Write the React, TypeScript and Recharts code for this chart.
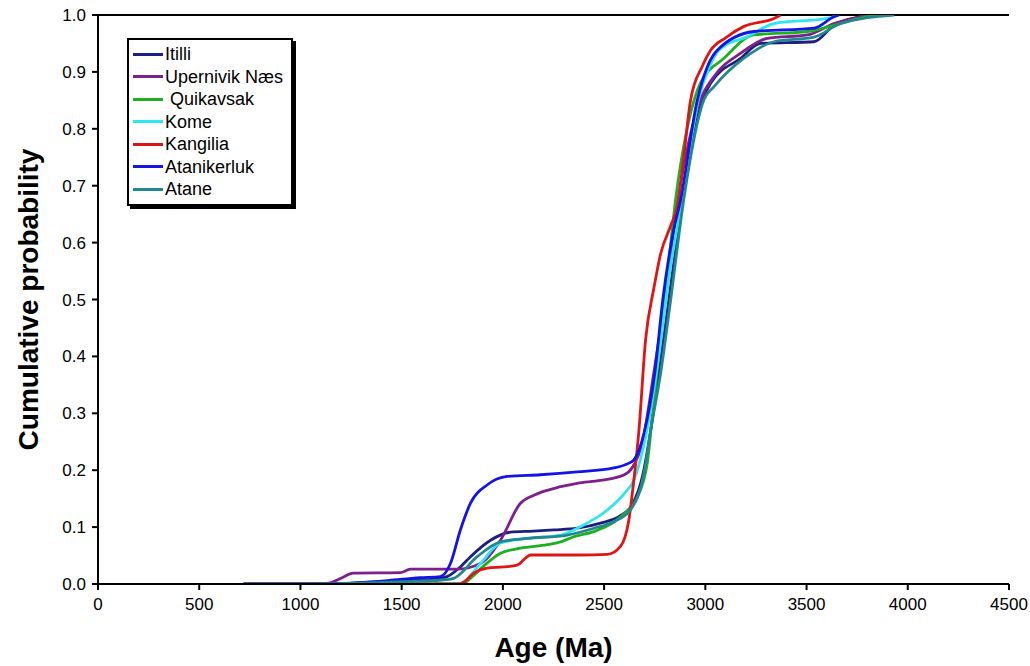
import React from 'react'
import { LineChart, Line, XAxis, YAxis, ReferenceLine } from 'recharts'

// [age (Ma), cumulative probability]
const itilli = [
  [720, 0], [1100, 0], [1400, 0.004], [1650, 0.008], [1724, 0.013], [1790, 0.03], [1840, 0.048],
  [1939, 0.077], [2037, 0.091], [2150, 0.093], [2252, 0.095], [2367, 0.098], [2482, 0.107],
  [2580, 0.12], [2640, 0.14], [2690, 0.19], [2730, 0.27], [2770, 0.37], [2820, 0.5], [2888, 0.675],
  [2985, 0.85], [3026, 0.88], [3175, 0.924], [3273, 0.95], [3537, 0.953], [3636, 0.982],
  [3734, 0.994], [3800, 1]
]
const upernivik = [
  [720, 0], [1100, 0], [1147, 0.002], [1200, 0.01], [1261, 0.019], [1493, 0.02], [1543, 0.026],
  [1774, 0.026], [1889, 0.036], [1988, 0.077], [2087, 0.142], [2153, 0.156], [2285, 0.171],
  [2367, 0.177], [2482, 0.182], [2600, 0.192], [2640, 0.205], [2690, 0.25], [2745, 0.37],
  [2800, 0.5], [2865, 0.675], [2975, 0.85], [3043, 0.892], [3175, 0.933], [3306, 0.959],
  [3504, 0.965], [3636, 0.985], [3770, 0.997], [3850, 1]
]
const quikavsak = [
  [720, 0], [1800, 0], [1840, 0.01], [1900, 0.03], [1988, 0.054], [2087, 0.063], [2219, 0.069],
  [2285, 0.074], [2350, 0.083], [2449, 0.092], [2581, 0.118], [2664, 0.153], [2713, 0.212],
  [2740, 0.3], [2775, 0.42], [2815, 0.55], [2853, 0.675], [2910, 0.8], [2975, 0.88], [3092, 0.924],
  [3240, 0.965], [3504, 0.971], [3636, 0.982], [3800, 0.997], [3880, 1]
]
const kome = [
  [720, 0], [1780, 0], [1806, 0.004], [1889, 0.036], [1988, 0.072], [2120, 0.08], [2285, 0.086],
  [2384, 0.101], [2516, 0.13], [2614, 0.165], [2639, 0.177], [2700, 0.25], [2770, 0.4],
  [2825, 0.55], [2885, 0.675], [2965, 0.85], [3020, 0.909], [3076, 0.941], [3208, 0.962],
  [3339, 0.985], [3603, 0.994], [3660, 1]
]
const kangilia = [
  [720, 0], [1780, 0], [1806, 0.003], [1856, 0.019], [1922, 0.028], [2004, 0.03], [2070, 0.033],
  [2110, 0.045], [2136, 0.051], [2384, 0.051], [2516, 0.052], [2581, 0.066], [2622, 0.112],
  [2647, 0.183], [2672, 0.27], [2705, 0.43], [2746, 0.52], [2779, 0.58], [2829, 0.63],
  [2862, 0.665], [2890, 0.74], [2927, 0.85], [2985, 0.91], [3026, 0.938], [3100, 0.96],
  [3191, 0.98], [3339, 0.994], [3372, 1]
]
const atanikerluk = [
  [720, 0], [1100, 0], [1400, 0.005], [1592, 0.011], [1691, 0.013], [1741, 0.036], [1790, 0.095],
  [1840, 0.142], [1922, 0.174], [2021, 0.189], [2186, 0.192], [2367, 0.197], [2548, 0.204],
  [2620, 0.212], [2647, 0.218], [2697, 0.265], [2750, 0.37], [2790, 0.5], [2840, 0.616],
  [2878, 0.675], [2960, 0.85], [3010, 0.909], [3059, 0.938], [3240, 0.971], [3537, 0.977],
  [3636, 0.997], [3660, 1]
]
const atane = [
  [720, 0], [1100, 0], [1500, 0.004], [1700, 0.007], [1757, 0.01], [1873, 0.048], [1988, 0.074],
  [2120, 0.08], [2318, 0.086], [2450, 0.098], [2550, 0.11], [2630, 0.13], [2700, 0.2],
  [2730, 0.27], [2779, 0.37], [2829, 0.5], [2893, 0.675], [2993, 0.851], [3043, 0.874],
  [3191, 0.924], [3339, 0.953], [3537, 0.961], [3669, 0.985], [3932, 1]
]

const seriesNames = ['Itilli', 'Upernivik Næs', ' Quikavsak', 'Kome', 'Kangilia', 'Atanikerluk', 'Atane']
const seriesColors = ['#1e1e7e', '#7d1f8c', '#1fb01f', '#2ee6f2', '#e01414', '#1414e6', '#23878f']
const seriesPoints = [itilli, upernivik, quikavsak, kome, kangilia, atanikerluk, atane]

const ageTicks = [0, 500, 1000, 1500, 2000, 2500, 3000, 3500, 4000, 4500]
const probTicks = [0, 0.1, 0.2, 0.3, 0.4, 0.5, 0.6, 0.7, 0.8, 0.9, 1]

const FONT = '"Liberation Sans", Arial, sans-serif'

const toRows = (pts: number[][]) => pts.map(([age, p]) => ({ age, p }))

// legend drawn as a plain box over the plot, like the original
const LegendBox = () => (
  <div
    style={{
      position: 'absolute',
      left: 127,
      top: 38,
      width: 162,
      border: '2px solid #000',
      boxShadow: '3px 3px 0 #000',
      background: '#fff',
      padding: '3px 0',
      fontFamily: FONT,
      fontSize: 18,
      color: '#000'
    }}
  >
    {seriesNames.map((name, i) => (
      <div key={name} style={{ display: 'flex', alignItems: 'center', height: 22.5 }}>
        <span style={{ display: 'inline-block', width: 30, height: 3, marginLeft: 4, marginRight: 2, background: seriesColors[i] }} />
        <span style={{ whiteSpace: 'pre', lineHeight: '22px' }}>{name}</span>
      </div>
    ))}
  </div>
)

export default function App() {
  return (
    <div style={{ position: 'relative', width: 1030, height: 666, background: '#fff' }}>
      <style>{'body { margin: 0; }'}</style>
      <LineChart
        width={1030}
        height={666}
        margin={{ top: 15, right: 21, bottom: 0, left: 0 }}
        style={{ fontFamily: FONT }}
      >
        <XAxis
          type="number"
          dataKey="age"
          domain={[0, 4500]}
          ticks={ageTicks}
          interval={0}
          height={82}
          tickSize={6}
          tickMargin={8}
          axisLine={{ stroke: '#000', strokeWidth: 2 }}
          tickLine={{ stroke: '#000', strokeWidth: 2 }}
          tick={{ fill: '#000', fontSize: 17 }}
          allowDataOverflow
          label={{
            value: 'Age (Ma)',
            position: 'insideBottom',
            offset: 9,
            style: { fontSize: 28, fontWeight: 'bold', fill: '#000' }
          }}
        />
        <YAxis
          type="number"
          dataKey="p"
          domain={[0, 1]}
          ticks={probTicks}
          interval={0}
          width={98}
          tickSize={6}
          tickMargin={6}
          tickFormatter={(v: number) => v.toFixed(1)}
          axisLine={{ stroke: '#000', strokeWidth: 2 }}
          tickLine={{ stroke: '#000', strokeWidth: 2 }}
          tick={{ fill: '#000', fontSize: 17 }}
          allowDataOverflow
          label={{
            value: 'Cumulative probability',
            angle: -90,
            position: 'insideLeft',
            offset: 28,
            style: { fontSize: 28, fontWeight: 'bold', fill: '#000', textAnchor: 'middle' }
          }}
        />
        <ReferenceLine y={1} stroke="#000" strokeWidth={2} />
        {seriesPoints.map((pts, i) => (
          <Line
            key={seriesNames[i]}
            data={toRows(pts)}
            dataKey="p"
            name={seriesNames[i]}
            type="monotone"
            stroke={seriesColors[i]}
            strokeWidth={2.8}
            dot={false}
            activeDot={false}
            isAnimationActive={false}
          />
        ))}
      </LineChart>
      <LegendBox />
    </div>
  )
}
